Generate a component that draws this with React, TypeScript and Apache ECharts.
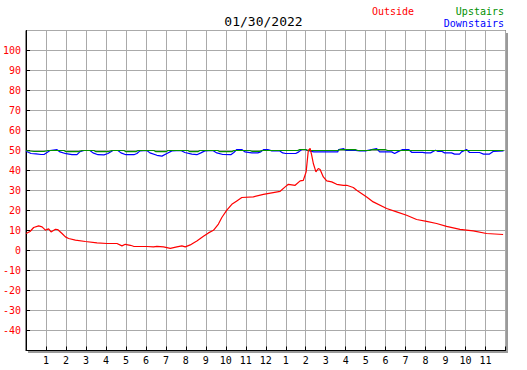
import React, { useEffect, useRef } from "react";
import * as echarts from "echarts";

const titleText = "01/30/2022";
const hourLabels = ["", "1", "2", "3", "4", "5", "6", "7", "8", "9", "10", "11", "12", "1", "2", "3", "4", "5", "6", "7", "8", "9", "10", "11", ""];

const outsideHours = [0.0, 0.2, 0.38, 0.63, 0.8, 0.97, 1.13, 1.25, 1.47, 1.58, 1.8, 1.97, 2.13, 2.47, 2.97, 3.55, 4.05, 4.55, 4.8, 4.97, 5.22, 5.38, 6.05, 6.38, 6.55, 6.88, 7.22, 7.55, 7.8, 7.97, 8.22, 8.38, 8.55, 8.88, 9.13, 9.38, 9.63, 9.8, 10.05, 10.3, 10.55, 10.8, 11.38, 11.88, 12.72, 12.97, 13.13, 13.47, 13.72, 13.88, 14.02, 14.13, 14.22, 14.3, 14.38, 14.51, 14.63, 14.72, 14.88, 15.05, 15.3, 15.55, 15.88, 16.05, 16.38, 16.55, 17.05, 17.38, 18.05, 18.55, 19.05, 19.55, 20.05, 20.55, 21.05, 21.72, 22.38, 23.05, 23.88];
const outsideTemps = [8.5, 9.5, 11.5, 12.3, 11.8, 10.2, 10.8, 9.3, 10.6, 10.5, 8.5, 6.8, 6.0, 5.2, 4.5, 3.8, 3.5, 3.5, 2.3, 3.1, 2.6, 2.1, 2.0, 1.8, 2.1, 1.8, 1.1, 1.8, 2.3, 1.8, 2.8, 3.8, 4.8, 7.1, 8.8, 10.1, 13.2, 16.5, 20.2, 23.1, 24.8, 26.5, 26.8, 28.1, 29.6, 31.8, 33.1, 32.6, 34.8, 35.1, 39.3, 50.1, 51.0, 47.6, 43.5, 39.3, 41.0, 40.5, 36.8, 34.8, 34.3, 33.1, 32.6, 32.6, 31.5, 30.1, 26.8, 24.3, 21.0, 19.3, 17.6, 15.5, 14.6, 13.5, 12.1, 10.6, 9.8, 8.5, 8.0];

const upstairsHours = [0, 0.4, 0.9, 1.1, 1.9, 2.0, 2.6, 2.8, 3.4, 3.5, 4.1, 4.3, 4.9, 5.0, 5.5, 5.6, 6.4, 6.5, 7.0, 7.1, 8.1, 8.2, 8.6, 8.7, 9.6, 9.7, 10.3, 10.4, 11.2, 11.3, 11.7, 11.8, 13.6, 13.7, 14.0, 14.1, 15.6, 15.7, 16.5, 16.6, 17.2, 17.3, 18.0, 18.1, 23.9];
const upstairsTemps = [50, 49.5, 49.5, 50, 50, 49.4, 49.4, 50, 50, 49.4, 49.4, 50, 50, 49.4, 49.4, 50, 50, 49.4, 49.4, 50, 50, 49.4, 49.4, 50, 50, 49.4, 49.4, 50, 50, 49.6, 49.6, 50, 50, 50.5, 50.5, 50, 50, 50.4, 50.4, 50, 50, 50.4, 50.4, 50, 50];

const downstairsHours = [0.0, 0.25, 0.5, 0.75, 0.9, 1.05, 1.2, 1.55, 1.7, 2.0, 2.3, 2.55, 2.7, 2.9, 3.2, 3.35, 3.6, 3.9, 4.1, 4.35, 4.6, 4.75, 5.0, 5.4, 5.55, 5.7, 6.05, 6.2, 6.55, 6.8, 7.05, 7.3, 7.75, 7.95, 8.3, 8.55, 8.75, 8.95, 9.35, 9.55, 9.85, 10.25, 10.4, 10.55, 10.8, 10.95, 11.3, 11.6, 11.75, 11.9, 12.1, 12.3, 12.7, 12.85, 13.0, 13.5, 13.65, 13.8, 13.95, 14.1, 14.4, 15.3, 15.6, 15.65, 15.9, 16.0, 16.5, 16.7, 17.0, 17.3, 17.55, 17.7, 18.3, 18.45, 18.6, 18.85, 19.15, 19.3, 19.85, 20.0, 20.25, 20.4, 20.5, 20.6, 20.8, 20.95, 21.3, 21.45, 21.7, 21.8, 22.05, 22.2, 22.7, 22.9, 23.2, 23.4, 23.9];
const downstairsTemps = [49.6, 48.5, 48.3, 48.0, 48.0, 49.0, 50.0, 50.4, 49.3, 48.4, 47.9, 47.9, 49.4, 50.0, 50.0, 48.8, 47.9, 47.8, 48.5, 50.0, 50.0, 48.8, 47.9, 47.9, 48.5, 49.8, 50.0, 48.8, 47.6, 47.2, 48.5, 49.8, 50.0, 49.0, 48.2, 47.9, 48.8, 49.8, 50.0, 48.8, 48.0, 47.9, 49.0, 50.5, 50.5, 49.3, 48.8, 48.8, 49.3, 50.5, 50.5, 49.8, 49.8, 48.8, 48.5, 48.5, 49.3, 50.5, 50.5, 50.0, 49.3, 49.3, 49.3, 50.5, 50.9, 50.1, 50.1, 49.8, 49.8, 50.5, 50.9, 49.3, 49.3, 48.5, 49.3, 50.5, 50.5, 49.1, 49.1, 48.8, 48.8, 49.6, 50.1, 49.6, 49.6, 48.8, 48.8, 48.2, 48.2, 49.3, 50.5, 49.0, 49.0, 48.2, 48.2, 49.6, 49.8];

const seriesNames = ["Outside", "Upstairs", "Downstairs"];
const seriesColors = ["#ff0000", "#009000", "#0000ff"];

const FONT = "'DejaVu Sans Mono', monospace";

function pairs(xs: number[], ys: number[]) {
  return xs.map((x, i) => [x, ys[i]]);
}

export default function App() {
  const ref = useRef<HTMLDivElement>(null);
  useEffect(() => {
    if (!ref.current) return;
    const chart = echarts.init(ref.current, null, { renderer: "svg" });
    chart.setOption({
      animation: false,
      backgroundColor: "#ffffff",
      title: {
        text: titleText,
        left: "center",
        top: 10,
        textStyle: { fontFamily: FONT, fontSize: 13, fontWeight: "normal", color: "#000" },
      },
      graphic: [
        { type: "rect", left: 506, top: 33, shape: { width: 2, height: 320 }, style: { fill: "#9a9a9a" } },
        { type: "rect", left: 28, top: 351, shape: { width: 480, height: 2 }, style: { fill: "#9a9a9a" } },
        { type: "text", left: 372, top: 6, style: { text: seriesNames[0], fill: seriesColors[0], font: `10px ${FONT}` } },
        { type: "text", right: 23, top: 6, style: { text: seriesNames[1], fill: seriesColors[1], font: `10px ${FONT}` } },
        { type: "text", right: 23, top: 18, style: { text: seriesNames[2], fill: seriesColors[2], font: `10px ${FONT}` } },
      ],
      grid: {
        left: 25.5,
        top: 30.5,
        width: 480,
        height: 320,
        show: true,
        backgroundColor: "#ffffff",
        borderColor: "#000000",
        borderWidth: 1,
      },
      xAxis: {
        type: "value",
        min: 0,
        max: 24,
        interval: 1,
        axisLine: { show: true, onZero: false, lineStyle: { color: "#000" } },
        axisTick: { show: true, inside: true, length: 4, lineStyle: { color: "#000" } },
        splitLine: { show: true, lineStyle: { color: "#aaaaaa", width: 1 } },
        axisLabel: {
          margin: 5,
          color: "#000",
          fontFamily: FONT,
          fontSize: 10,
          formatter: (v: number) => hourLabels[Math.round(v)] ?? "",
        },
      },
      yAxis: {
        type: "value",
        min: -50,
        max: 110,
        interval: 10,
        axisLine: { show: true, onZero: false, lineStyle: { color: "#000" } },
        axisTick: { show: true, inside: true, length: 4, lineStyle: { color: "#000" } },
        splitLine: { show: true, lineStyle: { color: "#aaaaaa", width: 1 } },
        axisLabel: {
          margin: 5,
          color: "#ff0000",
          fontFamily: FONT,
          fontSize: 10,
          showMinLabel: false,
          showMaxLabel: false,
        },
      },
      series: [
        {
          name: seriesNames[2],
          type: "line",
          showSymbol: false,
          data: pairs(downstairsHours, downstairsTemps),
          lineStyle: { color: seriesColors[2], width: 1.2 },
        },
        {
          name: seriesNames[1],
          type: "line",
          showSymbol: false,
          data: pairs(upstairsHours, upstairsTemps),
          lineStyle: { color: seriesColors[1], width: 1.2 },
        },
        {
          name: seriesNames[0],
          type: "line",
          showSymbol: false,
          data: pairs(outsideHours, outsideTemps),
          lineStyle: { color: seriesColors[0], width: 1.2 },
        },
      ],
    });
    return () => chart.dispose();
  }, []);
  return <div ref={ref} style={{ width: 527, height: 370, position: "absolute", left: 0, top: 0 }} />;
}
